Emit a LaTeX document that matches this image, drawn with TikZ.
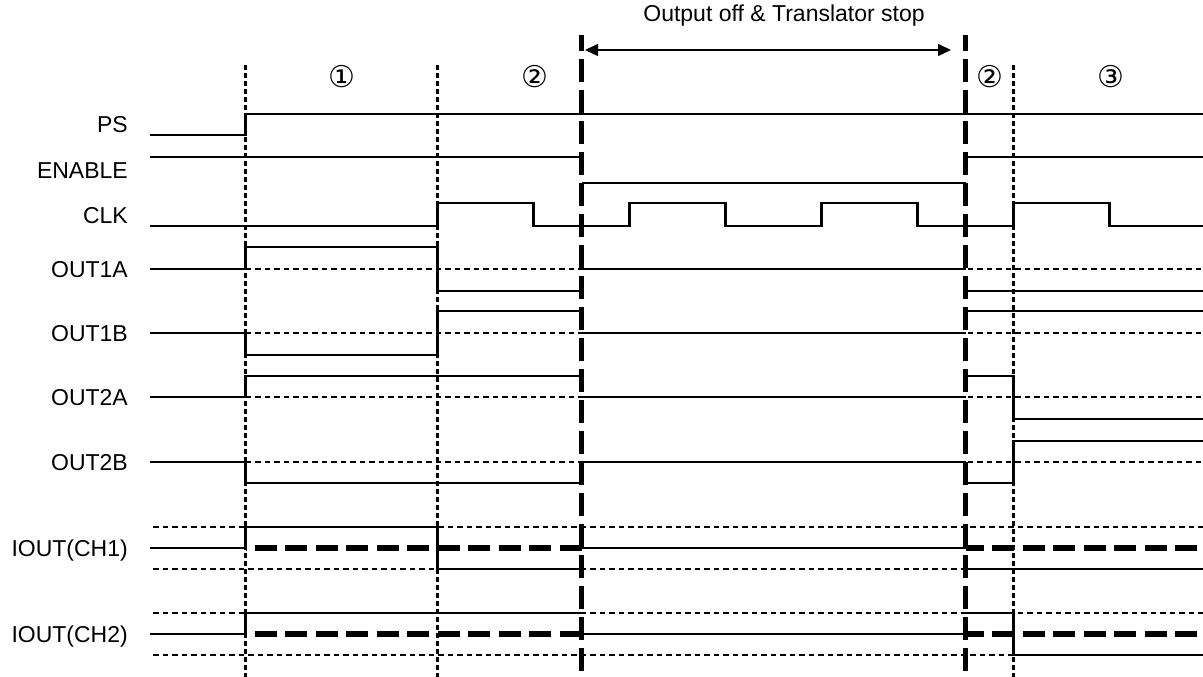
\documentclass[tikz,border=0pt]{standalone}
\usepackage{fontspec}
\setmainfont{Liberation Sans}
\newfontfamily\circfont{DejaVu Sans}
\usetikzlibrary{arrows.meta}
\begin{document}
\begin{tikzpicture}[x=1pt,y=-1pt,
  sig/.style={line width=2.9pt, line join=miter},
  ref/.style={line width=2.3pt, dash pattern=on 5.5pt off 4pt},
  gridv/.style={line width=3.3pt, dash pattern=on 4.7pt off 3.3pt},
  brk/.style={line width=5.5pt, dash pattern=on 23pt off 8pt, dash phase=7pt},
  iavg/.style={line width=5.5pt, dash pattern=on 22pt off 8.5pt},
  lbl/.style={font=\fontsize{23}{27}\selectfont, anchor=base east, inner sep=0pt},
  num/.style={font=\circfont\fontsize{30}{36}\selectfont, inner sep=0pt},
]
\useasboundingbox (0,0) rectangle (1203,677);

% region grid lines
\draw[gridv] (245.7,65) -- (245.7,677);
\draw[gridv] (437.7,65) -- (437.7,677);
\draw[gridv] (1013.7,65) -- (1013.7,677);

% labels
\node[lbl] (lPS) at (128,132.3) {PS};
\node[lbl] (lEN) at (128,178.3) {ENABLE};
\node[lbl] (lCLK) at (128,223.3) {CLK};
\node[lbl] (l1A) at (128,277.3) {OUT1A};
\node[lbl] (l1B) at (128,341.3) {OUT1B};
\node[lbl] (l2A) at (128,405.3) {OUT2A};
\node[lbl] (l2B) at (128,470.3) {OUT2B};
\node[lbl] (lI1) at (128,556.5) {IOUT(CH1)};
\node[lbl] (lI2) at (128,642.5) {IOUT(CH2)};

% region numbers
\node[num] (n1) at (341.7,77) {①};
\node[num] (n2) at (535,77) {②};
\node[num] (n3) at (990.3,77) {②};
\node[num] (n4) at (1111,77) {③};

% title and span arrow
\node[font=\fontsize{23}{27}\selectfont, anchor=base, inner sep=0pt] (title) at (784,21.5) {Output off \& Translator stop};
\coordinate (aL) at (585,50);
\coordinate (aR) at (951,50);
\draw[line width=1.5pt, {Triangle[length=13pt,width=12pt]}-{Triangle[length=13pt,width=12pt]}] (aL) -- (aR);

% reference (dotted) levels
\draw[ref] (245.7,269) -- (1203,269);
\draw[ref] (245.7,333) -- (1203,333);
\draw[ref] (245.7,397) -- (1203,397);
\draw[ref] (245.7,462) -- (1203,462);
\draw[ref] (153,527) -- (1203,527);
\draw[ref] (153,569) -- (1203,569);
\draw[ref] (153,613) -- (1203,613);
\draw[ref] (153,655) -- (1203,655);

% PS
\draw[sig] (150,135) -| (245.7,114) -- (1203,114);
% ENABLE
\draw[sig] (150,157) -- (581.7,157);
\draw[sig] (581.7,183) -- (965.7,183);
\draw[sig] (965.7,157) -- (1203,157);
% CLK
\draw[sig] (150,226) -- (437.7,226) |- (533.7,203) |- (629.7,226) |- (725.7,203) |- (821.7,226) |- (917.7,203) |- (1013.7,226) |- (1109.7,203) |- (1203,226);
% OUT1A
\draw[sig] (150,269) -| (245.7,247) -| (437.7,291) -- (581.7,291);
\draw[sig] (581.7,269) -- (965.7,269);
\draw[sig] (965.7,291) -- (1203,291);
% OUT1B
\draw[sig] (150,333) -| (245.7,355) -| (437.7,311) -- (581.7,311);
\draw[sig] (581.7,333) -- (965.7,333);
\draw[sig] (965.7,311) -- (1203,311);
% OUT2A
\draw[sig] (150,397) -| (245.7,376) -- (581.7,376);
\draw[sig] (581.7,397) -- (965.7,397);
\draw[sig] (965.7,376) -| (1013.7,419) -- (1203,419);
% OUT2B
\draw[sig] (150,462) -| (245.7,483) -- (581.7,483);
\draw[sig] (581.7,462) -- (965.7,462);
\draw[sig] (965.7,483) -| (1013.7,441) -- (1203,441);
% IOUT(CH1)
\draw[sig] (150,548) -| (245.7,527) -| (437.7,569) -- (581.7,569);
\draw[sig] (581.7,548) -- (965.7,548);
\draw[sig] (965.7,569) -- (1203,569);
\draw[iavg, dash phase=21.5pt] (245.7,548) -- (581.7,548);
\draw[iavg, dash phase=4pt] (965.7,548) -- (1203,548);
% IOUT(CH2)
\draw[sig] (150,634) -| (245.7,613) -- (581.7,613);
\draw[sig] (581.7,634) -- (965.7,634);
\draw[sig] (965.7,613) -| (1013.7,655) -- (1203,655);
\draw[iavg, dash phase=21.5pt] (245.7,634) -- (581.7,634);
\draw[iavg, dash phase=4pt] (965.7,634) -- (1203,634);

% stop boundaries
\draw[brk] (581.7,35) -- (581.7,677);
\draw[brk] (965.7,35) -- (965.7,677);
\end{tikzpicture}
\end{document}
